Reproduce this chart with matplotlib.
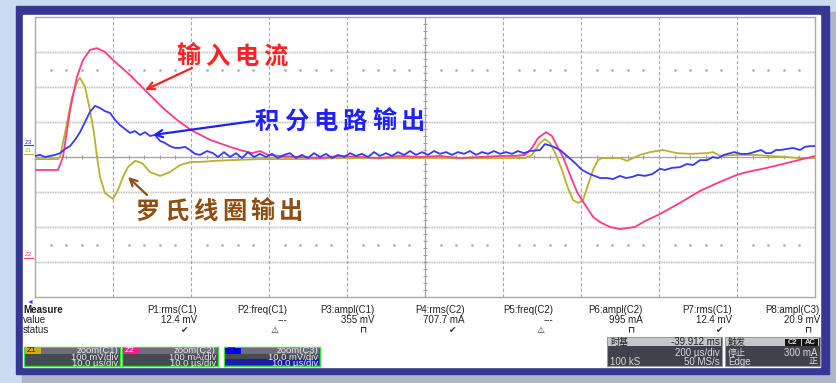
import numpy as np
import matplotlib.pyplot as plt
from matplotlib.patches import Rectangle

plt.rcParams['font.family'] = ['Noto Sans CJK SC', 'DejaVu Sans']

W, H = 837, 383

# zoom traces, time in us (10 us/div, 10 div on screen)
# C1: Rogowski coil output, mV (100 mV/div)
t_c1 = [0, 2.95, 3.21, 4.10, 4.74, 5.38, 5.77, 6.41, 7.05, 7.56, 7.95, 8.33, 8.97, 10.0,
        10.64, 11.28, 11.92, 12.82, 13.72, 14.74, 16.03, 17.31, 18.59, 20.0, 21.15, 23.08,
        25.0, 28.85, 33.97, 39.10, 46.79, 54.49, 62.82, 63.72, 64.74, 65.38, 66.03, 66.79,
        67.56, 68.33, 68.97, 69.62, 70.26, 70.90, 71.54, 72.18, 72.69, 75.0, 75.9, 77.56,
        78.85, 80.51, 82.31, 83.97, 86.15, 86.92, 87.82, 90.0, 92.05, 94.23, 96.41, 97.69, 100]
v_c1 = [-6, -6, 0, 97, 171, 214, 226, 200, 134, 69, 0, -57, -103, -120,
        -94, -57, -29, -11, -17, -43, -54, -43, -23, -14, -14, -11,
        -9, -6, -6, -3, -3, -3, -3, 6, 40, 51, 40, 6,
        -37, -89, -123, -131, -123, -80, -37, -9, -3, -3, -11, 6,
        14, 20, 11, 9, 11, 14, 3, 6, 6, 3, 0, -3, -3]

# C2: input current, mA (100 mA/div)
t_c2 = [0, 2.95, 3.59, 4.49, 5.38, 6.15, 7.05, 7.95, 8.97, 10.0, 12.18, 14.10, 16.41, 18.2,
        20.0, 22.44, 25.0, 26.28, 27.82, 28.85, 29.87, 31.41, 33.97, 36.54, 39.1, 41.67,
        44.23, 46.79, 49.36, 51.92, 54.49, 57.05, 59.62, 61.54, 62.82, 63.72, 64.49, 65.51,
        66.28, 67.05, 67.69, 68.59, 69.49, 70.13, 71.54, 72.44, 73.72, 75.0, 76.92, 78.21,
        80.13, 82.69, 85.26, 87.82, 90.0, 91.28, 93.85, 96.41, 98.97, 100]
i_c2 = [-37, -37, 0, 134, 229, 277, 306, 311, 300, 277, 234, 191, 140, 106,
        77, 49, 29, 20, 11, 17, 6, 3, 0, -3, 3, 0,
        -3, 3, 0, 3, -3, 0, 3, 3, 6, 26, 54, 71,
        60, 26, 0, -51, -100, -123, -171, -186, -200, -206, -200, -183,
        -163, -131, -97, -71, -51, -43, -31, -17, -3, 3]

# C3: integrator output, mV (10 mV/div)
t_c3 = [0, 0.64, 1.28, 1.92, 2.56, 3.21, 3.85, 4.49, 5.13, 5.77, 6.41, 7.05, 7.69, 8.33,
        8.97, 9.62, 10.26, 10.90, 11.54, 12.18, 12.82, 13.46, 14.10, 14.74, 15.38, 16.03,
        16.67, 17.31, 17.95, 18.59, 19.23, 19.87, 20.51, 21.15, 22.05, 22.82, 23.46, 24.23,
        25.0, 25.77, 26.54, 27.31, 28.08, 28.85, 29.62, 30.38, 31.15, 31.92,
        32.69, 33.46, 34.23, 35.0, 35.77, 36.54, 37.31, 38.08, 38.85, 39.62, 40.38, 41.15,
        41.92, 42.69, 43.46, 44.23, 45.0, 45.77, 46.54, 47.31, 48.08, 48.85, 49.62, 50.38,
        51.15, 51.92, 52.69, 53.46, 54.23, 55.0, 55.77, 56.54, 57.31, 58.08, 58.85, 59.62,
        60.38, 61.15, 61.92, 62.69, 63.46,
        64.74, 65.38, 66.28, 67.31, 68.21, 69.23, 70.13, 71.15, 72.44, 73.33, 74.10, 75.0,
        75.77, 76.54, 77.31, 78.21, 79.10, 80.13, 80.77, 81.67, 82.69, 83.59, 84.36, 85.26,
        86.15, 86.92, 87.56, 88.33, 89.62, 90.51, 91.41, 92.18, 93.08, 93.72, 94.36, 95.0,
        95.51, 96.41, 97.18, 98.08, 98.72, 99.36, 100]
v_c3 = [0.3, 0.6, 0, 0.3, 0.6, 1.1, 2.3, 3.1, 4.9, 7.1, 10.0, 12.9, 14.6, 14.0,
        13.1, 12.6, 10.6, 9.1, 8.0, 6.9, 7.4, 6.3, 7.1, 6.0, 6.3, 4.6,
        4.0, 3.1, 2.6, 2.6, 2.9, 2.0, 0.9, 0.6, 1.7, 1.1, 0, 1.4,
        0, 1.1, -0.3, 1.4, 0, 0.9, 0, 0.9, -0.3, 0.6,
        1.1, -0.3, 0.6, -0.3, 1.1, 0, 0.9, -0.3, 0.6, 0, 1.1, 0.3,
        0.9, 0, 1.4, 0.3, 1.1, 0.3, 1.4, 0.6, 1.7, 0.6, 1.4, 0.6,
        1.7, 0.9, 1.4, 0.6, 1.4, 0.9, 1.7, 0.6, 1.4, 0.9, 1.7, 0.9,
        1.4, 0.9, 1.7, 1.1, 1.7,
        2.0, 3.7, 3.1, 2.0, 0.3, -1.7, -3.7, -4.9, -6.0, -6.0, -6.3, -5.4,
        -6.0, -5.7, -5.1, -5.4, -4.9, -3.4, -3.7, -3.1, -2.9, -2.0, -2.3, -0.9,
        -0.9, 0, -0.3, 0.6, 1.4, 0.9, 0.9, 1.4, 2.0, 1.1, 1.1, 2.0,
        2.0, 2.3, 2.6, 2.0, 2.9, 3.1, 3.1]

us_per_div = 10
c1_per_div = 100
c2_per_div = 100
c3_per_div = 10

meas_names = ['P1:rms(C1)', 'P2:freq(C1)', 'P3:ampl(C1)', 'P4:rms(C2)',
              'P5:freq(C2)', 'P6:ampl(C2)', 'P7:rms(C1)', 'P8:ampl(C3)']
meas_values = ['12.4 mV', '---', '355 mV', '707.7 mA', '---', '995 mA', '12.4 mV', '20.9 mV']
meas_status = ['\u2714', '\u26a0', '\u2293', '\u2714', '\u26a0', '\u2293', '\u2714', '\u2293']
meas_right = [197, 287, 375, 465, 553, 643, 732, 820]

zoom_names = ['Z1', 'Z2', 'Z3']
zoom_src = ['zoom(C1)', 'zoom(C2)', 'zoom(C3)']
zoom_vdiv = ['100 mV/div', '100 mA/div', '10.0 mV/div']
zoom_hdiv = ['10.0 \u00b5s/div', '10.0 \u00b5s/div', '10.0 \u00b5s/div']

YEL = '#b9b22a'
PNK = '#ff3a8a'
BLU = '#3838ff'
LAT = ['Liberation Sans', 'DejaVu Sans']

fig = plt.figure(figsize=(W / 100, H / 100), dpi=100)
fig.patch.set_facecolor('#c9dcf0')

# background layer in pixel coordinates
bg = fig.add_axes([0, 0, 1, 1])
bg.set_xlim(0, W)
bg.set_ylim(H, 0)
bg.axis('off')
bg.add_patch(Rectangle((22, 12), W - 22, H - 12, color='#adb6c6', zorder=0))
bg.add_patch(Rectangle((16, 6), 813, 368, color='#363694', zorder=1))
bg.add_patch(Rectangle((23, 15), 797, 352, color='white', zorder=2))

# scope grid
ax = fig.add_axes([35 / W, 1 - 297 / H, 780 / W, 280 / H])
ax.set_xlim(0, 10)
ax.set_ylim(-4, 4)
ax.set_xticks([])
ax.set_yticks([])
for s in ax.spines.values():
    s.set_color('#a8a8a8')
    s.set_linewidth(1.0)
for i in range(1, 10):
    if i != 5:
        ax.axvline(i, color='#a6a6a6', lw=0.8, ls=(0, (3, 2)), zorder=1)
for j in [-3, -2, -1, 1, 2, 3]:
    ax.axhline(j, color='#f0f0f0', lw=2.2, zorder=0.5)
    ax.axhline(j, color='#bcbcbc', lw=0.8, ls=(0, (1, 1.2)), zorder=1)
ax.axhline(0, color='#a0a0a0', lw=0.9, zorder=1)
ax.axvline(5, color='#a0a0a0', lw=0.9, zorder=1)
minor = np.arange(0.2, 10, 0.2)
ax.vlines(minor, -0.07, 0.07, color='#a0a0a0', lw=0.8, zorder=1)
ax.hlines(np.arange(-3.8, 4, 0.2), 4.97, 5.03, color='#a0a0a0', lw=0.8, zorder=1)
dots = minor[np.abs(minor - np.round(minor)) > 0.05]
for yd in [2.5, -2.5]:
    ax.plot(dots, np.full(dots.shape, yd), ls='none', marker='s', ms=0.9,
            color='#b4b4b4', zorder=1)

# traces
ax.plot(np.array(t_c1) / us_per_div, np.array(v_c1) / c1_per_div, color=YEL, lw=1.3, zorder=3)
ax.plot(np.array(t_c2) / us_per_div, np.array(i_c2) / c2_per_div, color=PNK, lw=1.3, zorder=4)
ax.plot(np.array(t_c3) / us_per_div, np.array(v_c3) / c3_per_div, color=BLU, lw=1.3, zorder=5)

# overlay layer for labels, table and info boxes
top = fig.add_axes([0, 0, 1, 1], zorder=10)
top.set_xlim(0, W)
top.set_ylim(H, 0)
top.axis('off')
top.patch.set_alpha(0)


def cn_label(chars, x0, pitch, y, color):
    for k, ch in enumerate(chars):
        top.text(x0 + k * pitch, y, ch, fontsize=17.5, fontweight='heavy', color=color,
                 ha='center', va='center')


cn_label('输入电流', 188, 29, 57, '#ff2222')
cn_label('积分电路输出', 267, 29.3, 122, '#2020ff')
cn_label('罗氏线圈输出', 148, 28.7, 212, '#8e4e12')

arrow = dict(arrowstyle='->', lw=1.6, mutation_scale=13, shrinkA=0, shrinkB=0)
top.annotate('', xy=(145, 90), xytext=(192, 68), arrowprops=dict(arrow, color='#ff2222'))
top.annotate('', xy=(153, 135), xytext=(254, 121), arrowprops=dict(arrow, color='#2020ff'))
top.annotate('', xy=(128, 177), xytext=(147, 195), arrowprops=dict(arrow, color='#8e4e12'))

# channel markers on the left edge
for name, y, c in [('Z3', 142, BLU), ('Z1', 151, YEL), ('Z2', 255, PNK)]:
    top.text(28, y, name, fontsize=4.5, color=c, ha='center', va='center', family=LAT)
    top.plot([24, 33], [y + 3, y + 3], color=c, lw=0.8)
top.text(30, 302, '\u25c4', fontsize=5, color=BLU, ha='center', va='center', family=LAT)

# measurement table
top.text(23, 310, 'Measure', fontsize=7, fontweight='bold', color='#222222',
         ha='left', va='center', family=LAT)
top.text(23, 320, 'value', fontsize=7, color='#222222', ha='left', va='center', family=LAT)
top.text(23, 330, 'status', fontsize=7, color='#222222', ha='left', va='center', family=LAT)
for nm, val, st, xr in zip(meas_names, meas_values, meas_status, meas_right):
    top.text(xr, 310, nm, fontsize=7, color='#222222', ha='right', va='center', family=LAT)
    top.text(xr, 320, val, fontsize=7, color='#222222', ha='right', va='center', family=LAT)
    top.text(xr - 12, 330, st, fontsize=6.5, color='#333333', ha='center', va='center',
             family=['DejaVu Sans'], fontweight='bold')

# zoom trace boxes, three text rows in one block each
tag_colors = [('#c8b400', '#222222'), ('#ff1a8c', '#ffffff'), ('#0000ee', '#101060')]
for k, x0 in enumerate([24, 122, 224]):
    x1 = x0 + 96
    top.add_patch(Rectangle((x0, 347), x1 - x0, 19, facecolor='#474a52', edgecolor='#3cdc3c', lw=1))
    top.add_patch(Rectangle((x0 + 1, 348), x1 - x0 - 2, 6, facecolor='#6c6f79', lw=0))
    if k == 2:
        top.add_patch(Rectangle((x0 + 1, 359), x1 - x0 - 2, 6, facecolor='#1c1cb0', lw=0))
    top.add_patch(Rectangle((x0 + 1, 348), 16, 5.5, facecolor=tag_colors[k][0], lw=0))
    top.text(x0 + 3, 351, zoom_names[k], fontsize=6, color=tag_colors[k][1],
             ha='left', va='center', family=LAT)
    top.text(x1 - 2, 357, '\n'.join([zoom_src[k], zoom_vdiv[k], zoom_hdiv[k]]),
             fontsize=6.8, color='#e6e6e6', ha='right', va='center', multialignment='right',
             linespacing=0.68, family=LAT)

# timebase and trigger boxes
for x0, x1 in [(607, 722), (725, 820)]:
    top.add_patch(Rectangle((x0, 337), x1 - x0, 29, facecolor='#3f424a', edgecolor='#9a9a9a', lw=0.8))
    top.add_patch(Rectangle((x0 + 1, 338), x1 - x0 - 2, 8, facecolor='#c3c6cc', lw=0))
top.text(610, 342, '时基', fontsize=6.5, color='#202020', ha='left', va='center')
top.text(720, 342, '-39.912 ms', fontsize=7, color='#202020', ha='right', va='center', family=LAT)
top.text(720, 353, '200 \u00b5s/div', fontsize=7, color='#d8d8d8', ha='right', va='center', family=LAT)
top.text(610, 362, '100 kS', fontsize=7, color='#d8d8d8', ha='left', va='center', family=LAT)
top.text(720, 362, '50 MS/s', fontsize=7, color='#d8d8d8', ha='right', va='center', family=LAT)
top.text(728, 342, '触发', fontsize=6.5, color='#202020', ha='left', va='center')
for lbl, xa in [('C2', 786), ('AC', 803)]:
    top.add_patch(Rectangle((xa - 1, 338.5), 16, 7, facecolor='#151515', lw=0))
    top.text(xa + 7, 342, lbl, fontsize=5.5, color='#e0e0e0', ha='center', va='center',
             family=LAT, fontweight='bold')
top.text(728, 353, '停止', fontsize=6.5, color='#d8d8d8', ha='left', va='center')
top.text(818, 353, '300 mA', fontsize=7, color='#d8d8d8', ha='right', va='center', family=LAT)
top.text(728, 362, 'Edge', fontsize=7, color='#d8d8d8', ha='left', va='center', family=LAT)
top.text(818, 362, '正', fontsize=6.5, color='#d8d8d8', ha='right', va='center')

fig.savefig('out.png', dpi=100)
